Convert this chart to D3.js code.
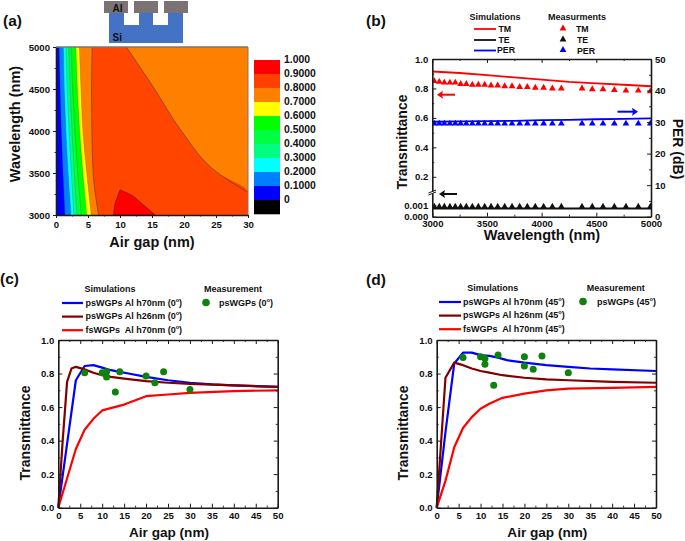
<!DOCTYPE html>
<html><head><meta charset="utf-8">
<script src="https://cdn.jsdelivr.net/npm/d3@7"></script>
<style>
html,body{margin:0;padding:0;background:#fff}
svg{display:block}
text{font-family:"Liberation Sans",Arial,sans-serif;font-weight:bold;fill:#111;white-space:pre}
</style></head><body>
<svg id="c" width="685" height="541"></svg>
<script>
// ---- Panel (a) contour boundaries: gap (nm) at each wavelength
const contourWavelengths=[5000,4500,4000,3500,3000];
const bandLevels=[0.8,0.7,0.6,0.5,0.4,0.3,0.2,0.1];
const bandColors=["#ff8000","#ffff00","#00ff00","#00ff40","#00ff80","#00ffff","#0080ff","#0000ff"];
const bandGaps=[
 [5.65,5.55,5.6,5.8,6.65],
 [3.65,3.9,4.2,4.8,5.5],
 [3.1,3.35,3.7,4.2,4.8],
 [2.35,2.6,2.95,3.4,3.95],
 [2.0,2.2,2.5,2.85,3.3],
 [1.55,1.75,2.05,2.4,2.8],
 [1.15,1.3,1.55,1.9,2.35],
 [0.5,0.65,0.85,1.1,1.4]
];
const bigContourW=[5000,4500,4000,3500,3270,3000];
const bigContourG=[11,15.4,19.6,25.3,30,30];
const islandG=[9,9.2,10,12,13.5,15.5];
const islandW=[3000,3130,3300,3230,3130,3000];
const baseOrange="#ff8000", midOrange="#ff4500", topRed="#ff0000";
const barLabels=["1.000","0.9000","0.8000","0.7000","0.6000","0.5000","0.4000","0.3000","0.2000","0.1000","0"];
const barLevels=[1,.9,.8,.7,.6,.5,.4,.3,.2,.1,0];
const barColors=["#ff0000","#ff4000","#ff8000","#ffff00","#00ff00","#00ff40","#00ff80","#00ffff","#0080ff","#0000ff","#000000"];
// ---- Panel (b)
const simW=[3000,3250,3500,3750,4000,4250,4500,4750,5000];
const simTM=[.915,.905,.89,.875,.86,.845,.835,.825,.815];
const simTE=[.0007,.0007,.0007,.0007,.0007,.0007,.0007,.0007,.0007];
const simPER=[30.1,30.2,30.3,30.4,30.6,30.7,30.9,31.0,31.2];
const measW=[3018,3064,3110,3161,3210,3259,3311,3366,3421,3479,3537,3598,3662,3729,3799,3869,3942,4018,4098,4180,4369,4463,4561,4665,4771,4884,4994];
const measTM=[.85,.845,.84,.84,.84,.83,.83,.825,.825,.825,.82,.82,.815,.815,.81,.81,.805,.805,.80,.80,.80,.795,.795,.79,.785,.785,.78];
const measTE=[.00085,.00085,.00085,.00085,.00085,.00085,.00085,.00085,.00085,.00085,.00085,.00085,.00085,.00085,.00085,.00085,.00085,.00085,.00085,.00085,.00085,.00085,.00085,.00085,.00085,.00085,.00085];
const measPER=[29.5,29.5,29.5,29.5,29.5,29.5,29.5,29.5,29.5,29.5,29.5,29.5,29.5,29.5,29.5,29.5,29.5,29.5,29.5,29.5,29.5,29.5,29.5,29.5,29.5,29.5,29.5];
// ---- Panel (c)
const c70x=[0,2,4,6,8,10,12,14,16,20,25,30,35,40,50];
const c70y=[0,.38,.76,.845,.85,.835,.82,.81,.80,.78,.76,.745,.735,.73,.72];
const c26x=[0,1,2,3,4,6,8,10,12,15,20,25,30,40,50];
const c26y=[0,.4,.75,.83,.84,.825,.805,.79,.78,.77,.755,.745,.738,.73,.72];
const cfsx=[0,4,6,8,10,15,20,25,30,40,50];
const cfsy=[0,.35,.465,.53,.58,.615,.665,.675,.685,.695,.70];
const cMx=[6,10,11,11,13,14,20,22,24,30];
const cMy=[.805,.805,.81,.78,.69,.81,.785,.745,.81,.705];
// ---- Panel (d)
const d70x=[0,2,4,6,8,10,12,14,16,20,25,30,35,40,50];
const d70y=[0,.45,.86,.925,.925,.91,.905,.895,.88,.865,.85,.84,.83,.825,.815];
const d26x=[0,2,4,6,8,10,12,15,20,25,30,40,50];
const d26y=[0,.775,.865,.85,.83,.815,.805,.79,.775,.765,.76,.75,.745];
const dfsx=[0,2,4,6,8,10,12,15,20,25,30,40,50];
const dfsy=[0,.16,.36,.475,.54,.59,.62,.655,.68,.70,.71,.715,.72];
const dMx=[6,10,11,11,13,14,20,20,22,24,30];
const dMy=[.895,.9,.89,.855,.73,.91,.9,.845,.825,.905,.805];
// ---- Tick lists
const gapTicks=[0,5,10,15,20,25,30];
const wlTicks=[3000,3500,4000,4500,5000];
const bWlTicks=[3000,3500,4000,4500,5000];
const tTicks=[.2,.4,.6,.8,1];
const smallTicks=[0,.001];
const perTicks=[0,10,20,30,40,50];
const airTicks=[0,5,10,15,20,25,30,35,40,45,50];
const transTicks=[0,.2,.4,.6,.8,1];
const simNames=["psWGPs Al h70nm (","psWGPs Al h26nm (","fsWGPs  Al h70nm ("];
const simColors=["#0000ff","#800000","#ff0000"];

const svg=d3.select("#c");
const dark="#1a1a1a";
function T(x,y,s,size,anchor,g){return (g||svg).append("text").attr("x",x).attr("y",y).attr("font-size",size)
  .attr("text-anchor",anchor||"start").attr("dominant-baseline","middle").text(s);}
function axis(g,kind,scale,pos,majors,minors,fmt,labels,len,pad){
  const ctor={b:d3.axisBottom,t:d3.axisTop,l:d3.axisLeft,r:d3.axisRight}[kind];
  const l=len||-4;
  const a=ctor(scale).tickValues(majors).tickSizeInner(l).tickSizeOuter(0).tickPadding(pad===undefined?4:pad).tickFormat(labels?fmt:"");
  const tr=(kind==="b"||kind==="t")?`translate(0,${pos})`:`translate(${pos},0)`;
  const n=g.append("g").attr("transform",tr).call(a);
  n.select(".domain").attr("stroke",dark).attr("stroke-width",1.6);
  n.selectAll(".tick line").attr("stroke",dark).attr("stroke-width",1);
  n.selectAll("text").attr("font-size",9.6).attr("fill","#111").attr("font-family",'"Liberation Sans"').attr("font-weight","bold");
  if(minors&&minors.length){
    const m=g.append("g").attr("transform",tr).call(ctor(scale).tickValues(minors).tickSizeInner(l/2).tickSizeOuter(0).tickFormat(""));
    m.select(".domain").remove();
    m.selectAll(".tick line").attr("stroke",dark).attr("stroke-width",.9);
  }
}
function tri(g,x,y,color,size){
  g.append("path").attr("transform",`translate(${x},${y})`).attr("d",d3.symbol(d3.symbolTriangle,size||20)()).attr("fill",color);
}
function arrow(g,x1,x2,y,color){
  const dir=x2>x1?1:-1;
  g.append("line").attr("x1",x1).attr("x2",x2-dir*4).attr("y1",y).attr("y2",y).attr("stroke",color).attr("stroke-width",2);
  g.append("path").attr("d",`M${x2},${y}L${x2-dir*6},${y-4}L${x2-dir*5},${y}L${x2-dir*6},${y+4}Z`).attr("fill",color);
}

// ---- panel letters
[["(a)",3,22],["(b)",366,22],["(c)",0,280],["(d)",366,281]].forEach(d=>T(d[1],d[2],d[0],15.5));

// ---- schematic
const sch=svg.append("g");
sch.append("rect").attr("x",109).attr("y",13).attr("width",74).attr("height",30).attr("fill","#4472c4");
[[124,15],[153,15]].forEach(d=>sch.append("rect").attr("x",d[0]).attr("y",13).attr("width",d[1]).attr("height",12).attr("fill","#fff"));
[104,134,164].forEach(x=>sch.append("rect").attr("x",x).attr("y",1).attr("width",24).attr("height",12).attr("fill","#7b7373"));
T(112.5,9,"Al",10);T(112.5,38.5,"Si",10);

// ---- Panel (a)
(function(){
  const g=svg.append("g");
  const x=d3.scaleLinear([0,30],[56,248]), y=d3.scaleLinear([3000,5000],[215,47]);
  svg.append("clipPath").attr("id","ca").append("rect").attr("x",56).attr("y",47).attr("width",192).attr("height",168);
  const p=g.append("g").attr("clip-path","url(#ca)");
  p.append("rect").attr("x",x(0)).attr("y",y(5000)).attr("width",x(30)-x(0)).attr("height",y(3000)-y(5000)).attr("fill",baseOrange);
  const big=bigContourW.map((w,i)=>({w,g:bigContourG[i]}));
  const area=d3.area().y(d=>y(d.w)).x0(x(0)).x1(d=>x(d.g)).curve(d3.curveMonotoneY);
  const edge=d3.line().y(d=>y(d.w)).x(d=>x(d.g)).curve(d3.curveMonotoneY);
  p.append("path").attr("d",area(big)).attr("fill",midOrange);
  p.append("path").attr("d",edge(big.slice(0,5))).attr("fill","none").attr("stroke","#332").attr("stroke-width",.5);
  const isl=islandG.map((v,i)=>[x(v),y(islandW[i])]);
  p.append("path").attr("d",d3.line()(isl)+"Z").attr("fill",topRed).attr("stroke","#5a1a10").attr("stroke-width",.6);
  bandGaps.forEach((row,i)=>{
    const d=row.map((v,j)=>({w:contourWavelengths[j],g:v}));
    p.append("path").attr("d",area(d)).attr("fill",bandColors[i]);
    p.append("path").attr("d",edge(d)).attr("fill","none").attr("stroke","#332").attr("stroke-width",.5).attr("stroke-opacity",i==0?.9:.45);
  });
  const minX=[2.5,7.5,12.5,17.5,22.5,27.5], minY=[3250,3750,4250,4750];
  axis(g,"b",x,215,gapTicks,minX,d3.format("d"),true,3,3);
  axis(g,"l",y,56,wlTicks,minY,d3.format("d"),true,3,3);
  g.append("line").attr("x1",56).attr("x2",248).attr("y1",47).attr("y2",47).attr("stroke","#777").attr("stroke-width",1.4);
  g.append("line").attr("x1",248).attr("x2",248).attr("y1",47).attr("y2",215).attr("stroke","#777").attr("stroke-width",1);
  T(152,243,"Air gap (nm)",14.5,"middle");
  T(0,0,"Wavelength (nm)",14.5,"middle").attr("transform","translate(16,124) rotate(-90)");
  const cy=d3.scaleLinear([1,0],[60,200]);
  barLevels.forEach((v,i)=>{
    g.append("rect").attr("x",254).attr("y",cy(v)).attr("width",26).attr("height",cy(0)-cy(.1)+.3).attr("fill",barColors[i]);
    T(284,cy(v)+.5,barLabels[i],10.4);
  });
})();

// ---- Panel (b)
(function(){
  const g=svg.append("g");
  const x=d3.scaleLinear([3000,5000],[432.3,651]);
  const y=d3.scaleLinear([0,.001,.09,1],[216.7,205,193,59]);
  const yr=d3.scaleLinear([0,50],[216.7,59]);
  svg.append("clipPath").attr("id","cb").append("rect").attr("x",432.3).attr("y",59).attr("width",218.7).attr("height",157.7);
  const p=g.append("g").attr("clip-path","url(#cb)");
  const l=(ys,sc)=>d3.line().x((d,i)=>x(simW[i])).y(d=>sc(d))(ys);
  p.append("path").attr("d",l(simTM,y)).attr("fill","none").attr("stroke","#ff0000").attr("stroke-width",1.8);
  p.append("path").attr("d",l(simTE,y)).attr("fill","none").attr("stroke","#111").attr("stroke-width",1.8);
  p.append("path").attr("d",l(simPER,yr)).attr("fill","none").attr("stroke","#0000ff").attr("stroke-width",1.8);
  measW.forEach((w,i)=>{
    tri(p,x(w),y(measTM[i]),"#ff0000");
    tri(p,x(w),y(measTE[i]),"#111");
    tri(p,x(w),yr(measPER[i]),"#0000ff");
  });
  axis(g,"b",x,216.7,bWlTicks,[3250,3750,4250,4750],d3.format("d"),true,-4,3);
  axis(g,"t",x,59,bWlTicks,[3250,3750,4250,4750],d3.format("d"),false);
  const leftFmt=v=>v<.01?d3.format(".3f")(v):d3.format(".1f")(v);
  axis(g,"l",y,432.3,tTicks.concat(smallTicks),[.3,.5,.7,.9],leftFmt,true);
  axis(g,"r",yr,651,perTicks,[5,15,25,35,45],d3.format("d"),true);
  g.append("line").attr("x1",432.3).attr("x2",432.3).attr("y1",191.7).attr("y2",193.6).attr("stroke","#fff").attr("stroke-width",2.4);
  g.append("line").attr("x1",428.5).attr("x2",436).attr("y1",195).attr("y2",192).attr("stroke",dark).attr("stroke-width",1);
  g.append("line").attr("x1",428.5).attr("x2",436).attr("y1",193).attr("y2",190).attr("stroke",dark).attr("stroke-width",1);
  arrow(g,455,437,94.7,"#ff0000");
  arrow(g,617.5,638,111.7,"#0000ff");
  arrow(g,457,439,194,"#111");
  T(542,236.5,"Wavelength (nm)",14.5,"middle");
  T(0,0,"Transmittance",14,"middle").attr("transform","translate(403,142) rotate(-90)");
  T(0,0,"PER (dB)",14,"middle").attr("transform","translate(677,149) rotate(90)");
  T(495,18,"Simulations",9,"middle");
  T(577,18,"Measurments",9,"middle");
  [["TM","#ff0000",29],["TE","#111",40],["PER","#0000ff",50.5]].forEach(d=>{
    g.append("line").attr("x1",474).attr("x2",496).attr("y1",d[2]).attr("y2",d[2]).attr("stroke",d[1]).attr("stroke-width",1.8);
    T(d[0]=="PER"?497:498.5,d[2]+.5,d[0],8.8);
    tri(g,563,d[2]-.5,d[1]);
    T(d[0]=="TM"?576:577,d[2]+1,d[0],8.8);
  });
})();

// ---- Panels (c),(d)
function lower(x0,x1,series,mx,my,ang,lg){
  const g=svg.append("g");
  const x=d3.scaleLinear([0,50],[x0,x1]), y=d3.scaleLinear([0,1],[507.7,340]);
  const minX=d3.range(2.5,50,5), minY=[.1,.3,.5,.7,.9];
  series.forEach((s,k)=>{
    const pts=s[0].map((v,i)=>[x(v),y(s[1][i])]);
    g.append("path").attr("d",d3.line()(pts)).attr("fill","none").attr("stroke",simColors[k]).attr("stroke-width",2.2).attr("stroke-linejoin","round");
  });
  mx.forEach((v,i)=>g.append("circle").attr("cx",x(v)).attr("cy",y(my[i])).attr("r",3.5).attr("fill","#0d820d"));
  axis(g,"b",x,507.7,airTicks,minX,d3.format("d"),true);
  axis(g,"t",x,340,airTicks,minX,d3.format("d"),false);
  axis(g,"l",y,x0,transTicks,minY,d3.format(".1f"),true);
  axis(g,"r",y,x1,transTicks,minY,d3.format(".1f"),false);
  T((x0+x1)/2+1,533,"Air gap (nm)",13.6,"middle");
  T(0,0,"Transmittance",14,"middle").attr("transform",`translate(${x0-32.5},433) rotate(-90)`);
  T(lg.simC,lg.top,"Simulations",9,"middle");
  T(lg.meaC,lg.top,"Measurement",9,"middle");
  function sup(t,head){
    t.text(head);
    t.append("tspan").attr("font-size",5.6).attr("dy",-3).text("o");
    t.append("tspan").attr("dy",3).text(")");
  }
  simNames.forEach((n,k)=>{
    const yy=lg.y0+k*13.6;
    g.append("line").attr("x1",lg.lx0).attr("x2",lg.lx1).attr("y1",yy).attr("y2",yy).attr("stroke",simColors[k]).attr("stroke-width",2.2);
    sup(T(lg.tx,yy+.5,"",9),n+ang);
  });
  g.append("circle").attr("cx",lg.cx).attr("cy",lg.y0-.5).attr("r",3.8).attr("fill","#0d820d");
  sup(T(lg.mtx,lg.y0+.5,"",9),"psWGPs ("+ang);
}
lower(58.3,277.7,[[c70x,c70y],[c26x,c26y],[cfsx,cfsy]],cMx,cMy,"0",
  {simC:110,meaC:233,top:289.5,y0:303,lx0:62,lx1:83,tx:85.5,cx:206,mtx:219});
lower(436.7,656,[[d70x,d70y],[d26x,d26y],[dfsx,dfsy]],dMx,dMy,"45",
  {simC:492.7,meaC:615.7,top:289,y0:302,lx0:439,lx1:461,tx:463,cx:583,mtx:597});
</script>
</body></html>
